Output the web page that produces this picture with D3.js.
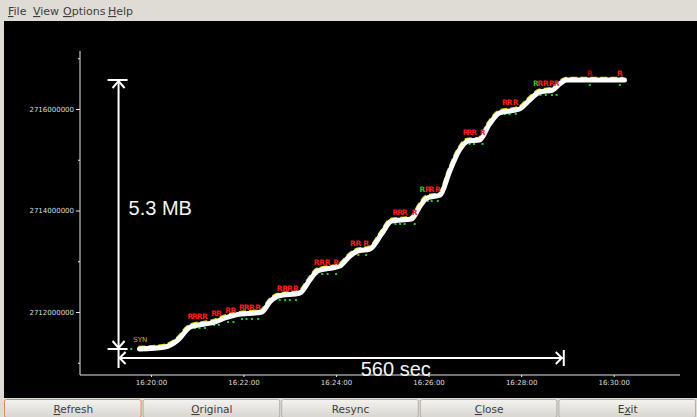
<!DOCTYPE html>
<html>
<head>
<meta charset="utf-8">
<script src="https://cdn.jsdelivr.net/npm/d3@7"></script>
<style>
  body { margin: 0; background: #dfdcd6; overflow: hidden; }
  svg { display: block; }
</style>
</head>
<body>
<div id="chart"></div>
<script>
// ---- data ----
const segTimes = ["16:19:45", "16:20:18", "16:20:35", "16:20:51", "16:21:23", "16:21:36", "16:21:49",
    "16:22:24", "16:22:34", "16:22:45", "16:23:13", "16:23:26", "16:23:36", "16:24:05", "16:24:18",
    "16:24:28", "16:24:44", "16:24:59", "16:25:12", "16:25:38", "16:25:49", "16:25:58", "16:26:15",
    "16:26:27", "16:26:40", "16:26:51", "16:27:06", "16:27:19", "16:27:32", "16:27:58", "16:28:11",
    "16:28:24", "16:28:41", "16:28:50", "16:28:59", "16:30:14"]
const segSeqs = [2711271000, 2711310000, 2711448000, 2711704500, 2711803000, 2711882000, 2711941000,
    2712000000, 2712197000, 2712315000, 2712374500, 2712630600, 2712808000, 2712906500, 2713103500,
    2713202000, 2713241400, 2713537000, 2713793000, 2713832600, 2714088700, 2714246300, 2714305500,
    2714758600, 2715192100, 2715369500, 2715389200, 2715704400, 2715921200, 2716000000, 2716177300,
    2716335000, 2716374400, 2716492600, 2716571400, 2716571400]

// retransmission marks ("R"), kind: r = red, g = green, d = dark red
const rTimes = ["16:20:51", "16:20:57", "16:21:03", "16:21:10", "16:21:22", "16:21:28", "16:21:40", "16:21:47",
    "16:21:58", "16:22:04", "16:22:11", "16:22:19", "16:22:47", "16:22:54", "16:23:00", "16:23:08",
    "16:23:35", "16:23:42", "16:23:49", "16:24:00", "16:24:22", "16:24:29", "16:24:39",
    "16:25:17", "16:25:23", "16:25:29", "16:25:42", "16:25:52", "16:25:59", "16:26:04", "16:26:12",
    "16:26:48", "16:26:53", "16:26:59", "16:27:10", "16:27:39", "16:27:45", "16:27:53",
    "16:28:19", "16:28:25", "16:28:32", "16:28:40", "16:28:46", "16:29:29", "16:30:08"]
const rSeqs = [2711862000, 2711862000, 2711862000, 2711862000, 2711921300, 2711921300, 2711980000, 2711980000,
    2712039500, 2712039500, 2712039500, 2712039500, 2712413900, 2712413900, 2712413900, 2712413900,
    2712926200, 2712926200, 2712926200, 2712926200, 2713300600, 2713300600, 2713300600,
    2713911400, 2713911400, 2713911400, 2713911400, 2714364600, 2714364600, 2714364600, 2714364600,
    2715487700, 2715487700, 2715487700, 2715487700, 2716078800, 2716078800, 2716078800,
    2716453200, 2716453200, 2716453200, 2716453200, 2716453200, 2716650200, 2716650200]
const rKinds = ["r", "r", "r", "r", "r", "r", "r", "r",
    "r", "r", "r", "r", "r", "r", "r", "r",
    "r", "r", "r", "r", "r", "r", "r",
    "r", "r", "r", "r", "g", "r", "r", "r",
    "r", "r", "r", "r", "r", "r", "r",
    "g", "r", "r", "r", "r", "d", "r"]

const yMajorTicks = [2712000000, 2714000000, 2716000000]
const yMinorTicks = [2711000000, 2713000000, 2715000000, 2717000000]
const xTickTimes = ["16:20:00", "16:22:00", "16:24:00", "16:26:00", "16:28:00", "16:30:00"]
const xDomain = ["16:18:28", "16:31:26"]
const yDomain = [2710758700, 2717142800]

// hand-drawn measurement: start/end time and low/high sequence
const synMark = { time: "16:19:37", seq: 2711409000, label: "SYN" }
const spanTimes = ["16:19:18", "16:28:54"]
const spanSeqs = [2711271000, 2716571400]
const hArrowSeq = 2711093700
const mbLabel = { time: "16:19:31", seq: 2713911400, text: "5.3 MB" }
const secLabel = { time: "16:24:32", seq: 2710739000, text: "560 sec" }

const menuItems = ["File", "View", "Options", "Help"]
const buttons = [["Refresh", 0], ["Original", 0], ["Resync", -1], ["Close", 0], ["Exit", 1]]

// ---- drawing ----
const W = 697, H = 417
const parse = d3.timeParse("%H:%M:%S")
const x = d3.scaleTime().domain(xDomain.map(parse)).range([80, 680])
const y = d3.scaleLinear().domain(yDomain).range([375, 51])

const svg = d3.select('#chart').append('svg')
    .attr('width', W)
    .attr('height', H)

// window chrome
svg.append('rect')
    .attr('x', 0).attr('y', 0).attr('width', W).attr('height', 21)
    .style('fill', '#dfdcd6')

const menuX = [8, 33, 63, 108]
svg.selectAll('text.menu')
    .data(menuItems)
    .join('text')
    .attr('class', 'menu')
    .attr('x', (d, i) => menuX[i])
    .attr('y', 15)
    .style('font-family', 'DejaVu Sans, sans-serif')
    .style('font-size', '11px')
    .style('fill', '#3c3c3c')
    .each(function (d) {
        const t = d3.select(this)
        t.append('tspan').style('text-decoration', 'underline').text(d[0])
        t.append('tspan').text(d.slice(1))
    })

svg.append('rect')
    .attr('x', 4).attr('y', 21).attr('width', W - 4).attr('height', 377)
    .style('fill', '#000')

const defs = svg.append('defs')
const grad = defs.append('linearGradient')
    .attr('id', 'btn').attr('x1', 0).attr('x2', 0).attr('y1', 0).attr('y2', 1)
grad.append('stop').attr('offset', '0%').attr('stop-color', '#f4f3f1')
grad.append('stop').attr('offset', '100%').attr('stop-color', '#d9d5cf')

const btnW = (W - 4) / buttons.length
const btn = svg.selectAll('g.btn')
    .data(buttons)
    .join('g')
    .attr('transform', (d, i) => `translate(${4 + i * btnW}, 399)`)
btn.append('rect')
    .attr('x', 0.5).attr('y', 0.5)
    .attr('width', btnW - 2).attr('height', 18)
    .attr('rx', 2)
    .style('fill', 'url(#btn)')
    .style('stroke', (d, i) => i === 0 ? '#e8865a' : '#b3aea7')
btn.append('text')
    .attr('x', btnW / 2)
    .attr('y', 14)
    .style('text-anchor', 'middle')
    .style('font-family', 'DejaVu Sans, sans-serif')
    .style('font-size', '10.5px')
    .style('fill', '#3c3c3c')
    .each(function (d) {
        const t = d3.select(this), s = d[0], k = d[1]
        if (k < 0) { t.text(s); return }
        t.append('tspan').text(s.slice(0, k))
        t.append('tspan').style('text-decoration', 'underline').text(s[k])
        t.append('tspan').text(s.slice(k + 1))
    })

// axes
const axisColor = '#e6e6e6'
const yAxis = svg.append('g')
    .attr('transform', 'translate(80,0)')
    .call(d3.axisLeft(y).tickValues(yMajorTicks).tickSize(4).tickSizeOuter(0).tickPadding(2)
        .tickFormat(d3.format('d')))
yAxis.select('.domain').remove()
yAxis.selectAll('line').style('stroke', axisColor)
yAxis.selectAll('text')
    .style('fill', '#dcdcdc')
    .style('font-family', 'DejaVu Sans, sans-serif')
    .style('font-size', '7px')

const yMinor = svg.append('g')
    .attr('transform', 'translate(80,0)')
    .call(d3.axisLeft(y).tickValues(yMinorTicks).tickSize(2).tickFormat(''))
yMinor.select('.domain').remove()
yMinor.selectAll('line').style('stroke', axisColor)

const xAxis = svg.append('g')
    .attr('transform', 'translate(0,375)')
    .call(d3.axisBottom(x).tickValues(xTickTimes.map(parse)).tickSize(2).tickSizeOuter(0).tickPadding(3)
        .tickFormat(d3.timeFormat('%H:%M:%S')))
xAxis.select('.domain').remove()
xAxis.selectAll('line').style('stroke', axisColor)
xAxis.selectAll('text')
    .style('fill', '#dcdcdc')
    .style('font-family', 'DejaVu Sans, sans-serif')
    .style('font-size', '7px')

svg.append('line')
    .attr('x1', 80).attr('x2', 80)
    .attr('y1', y.range()[1]).attr('y2', y.range()[0])
    .style('stroke', axisColor)
svg.append('line')
    .attr('x1', x.range()[0]).attr('x2', x.range()[1])
    .attr('y1', 375).attr('y2', 375)
    .style('stroke', axisColor)

// sequence curve
const seqLine = d3.line()
    .x(i => x(parse(segTimes[i])))
    .y(i => y(segSeqs[i]))
    .curve(d3.curveMonotoneX)
const idx = d3.range(segTimes.length)

// ack line peeking out along the upper edge
svg.append('path')
    .datum(idx)
    .attr('d', seqLine)
    .attr('transform', 'translate(-1,-2)')
    .style('fill', 'none')
    .style('stroke', '#d8d800')
    .style('stroke-width', 2.5)
    .style('stroke-dasharray', '7,3')

svg.selectAll('rect.ack')
    .data(d3.range(rTimes.length))
    .join('rect')
    .attr('class', 'ack')
    .attr('x', i => x(parse(rTimes[i])) - 1)
    .attr('y', i => y(rSeqs[i]) + 8)
    .attr('width', 2)
    .attr('height', 2)
    .style('fill', '#22c822')

svg.append('path')
    .datum(idx)
    .attr('d', seqLine)
    .style('fill', 'none')
    .style('stroke', '#fff')
    .style('stroke-width', 5)
    .style('stroke-linecap', 'round')

// R marks
svg.selectAll('text.r')
    .data(d3.range(rTimes.length))
    .join('text')
    .attr('class', 'r')
    .attr('x', i => x(parse(rTimes[i])))
    .attr('y', i => y(rSeqs[i]))
    .style('text-anchor', 'middle')
    .style('font-family', 'DejaVu Sans, sans-serif')
    .style('font-weight', 'bold')
    .style('font-size', '7.5px')
    .style('fill', i => rKinds[i] === 'g' ? '#3cb43c' : rKinds[i] === 'd' ? '#b40000' : '#ff1a1a')
    .text('R')

// SYN
svg.append('text')
    .attr('x', x(parse(synMark.time)))
    .attr('y', y(synMark.seq))
    .style('font-family', 'DejaVu Sans, sans-serif')
    .style('font-size', '7px')
    .style('fill', '#d9a400')
    .text(synMark.label)
svg.append('rect')
    .attr('x', x(parse(synMark.time)) - 3)
    .attr('y', y(spanSeqs[0]) - 1)
    .attr('width', 2).attr('height', 2)
    .style('fill', '#22c822')

// measurement arrows
const ax = x(parse(spanTimes[0]))
const bx = x(parse(spanTimes[1]))
const yTop = y(spanSeqs[1]), yBot = y(spanSeqs[0]), hy = y(hArrowSeq)
const ann = svg.append('g')
    .style('stroke', '#fff')
    .style('stroke-width', 2)
    .style('fill', 'none')

const annLines = [
    { x1: ax, x2: ax, y1: yTop, y2: hy + 10 },
    { x1: ax - 11, x2: ax + 9, y1: yTop, y2: yTop },
    { x1: ax - 11, x2: ax + 9, y1: yBot, y2: yBot },
    { x1: ax, x2: bx, y1: hy, y2: hy },
    { x1: bx + 1, x2: bx + 1, y1: hy - 8, y2: hy + 8 }
]
ann.selectAll('line')
    .data(annLines)
    .join('line')
    .attr('x1', d => d.x1).attr('x2', d => d.x2)
    .attr('y1', d => d.y1).attr('y2', d => d.y2)

const heads = [
    [[ax - 6, yTop + 8], [ax, yTop + 1], [ax + 6, yTop + 8]],
    [[ax - 6, yBot - 8], [ax, yBot - 1], [ax + 6, yBot - 8]],
    [[ax + 7, hy - 6], [ax + 1, hy], [ax + 7, hy + 6]],
    [[bx - 7, hy - 6], [bx - 1, hy], [bx - 7, hy + 6]]
]
ann.selectAll('path')
    .data(heads)
    .join('path')
    .attr('d', d3.line())

svg.selectAll('text.ann')
    .data([mbLabel, secLabel])
    .join('text')
    .attr('class', 'ann')
    .attr('x', d => x(parse(d.time)))
    .attr('y', d => y(d.seq))
    .style('font-family', 'Liberation Sans, Arial, sans-serif')
    .style('font-size', '20px')
    .style('fill', '#f4f4f4')
    .text(d => d.text)
</script>
</body>
</html>
